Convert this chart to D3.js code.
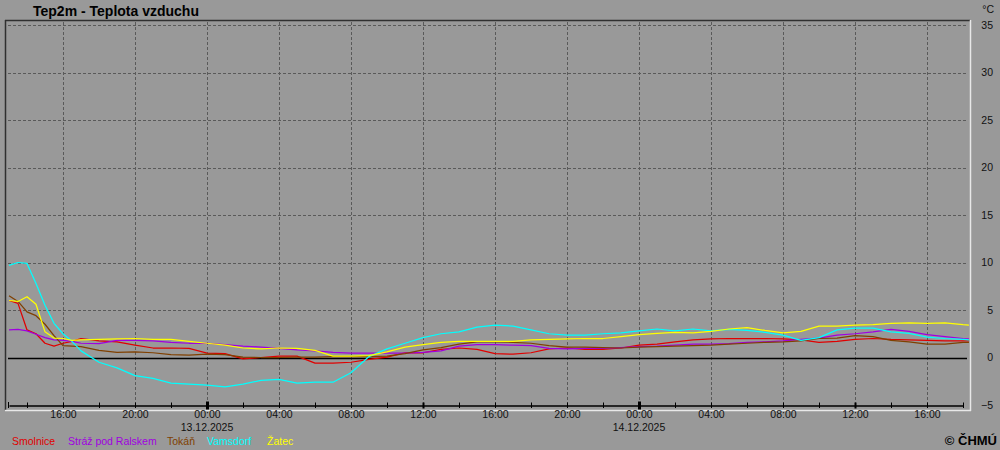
<!DOCTYPE html>
<html><head><meta charset="utf-8">
<script src="https://cdn.jsdelivr.net/npm/d3@7"></script>
<style>
html,body{margin:0;padding:0;background:#999999;}
svg{display:block;}
text{font-family:"Liberation Sans",Arial,sans-serif;}
</style></head>
<body>
<svg id="chart" width="1000" height="450"></svg>
<script>
// Hours after 12.12.2025 13:00
const hours = [0,0.5,1,1.5,2,2.5,3,3.5,4,5,6,7,8,9,10,11,12,13,14,15,16,17,18,19,20,21,22,23,24,25,26,27,28,29,30,31,32,33,34,35,36,37,38,39,40,41,42,43,44,45,46,47,48,49,50,51,52,53,53.33];
const smolnice = [6.0,5.7,2.9,2.5,1.5,1.2,1.5,1.7,2.0,1.75,1.65,1.3,1.0,1.0,0.95,0.45,0.4,-0.15,0.0,0.15,0.15,-0.6,-0.6,-0.5,-0.2,0.05,0.5,0.5,0.85,1.0,0.85,0.4,0.35,0.5,0.9,1.0,0.85,0.85,1.0,1.3,1.4,1.65,1.85,1.95,2.0,2.0,2.0,1.95,1.85,1.6,1.7,1.9,2.0,1.9,1.85,1.8,1.75,1.75,1.75];
const straz = [2.9,2.95,2.8,2.45,2.1,1.85,1.8,1.7,1.5,1.45,1.8,1.8,1.75,1.6,1.5,1.5,1.35,1.2,1.1,0.95,0.8,0.7,0.55,0.45,0.45,0.45,0.45,0.55,0.7,1.2,1.35,1.35,1.3,1.25,0.95,0.9,0.95,0.95,1.05,1.15,1.2,1.3,1.4,1.4,1.45,1.6,1.65,1.75,1.9,2.05,2.35,2.5,2.7,2.95,2.75,2.4,2.2,2.0,1.95];
const tokan = [6.5,5.9,4.8,4.4,3.5,2.3,1.25,1.2,1.15,0.75,0.55,0.6,0.5,0.3,0.25,0.35,0.3,0.05,0.0,0.0,0.05,0.05,0.1,0.1,0.1,0.15,0.4,0.8,1.05,1.4,1.65,1.65,1.6,1.5,1.25,1.1,1.1,1.05,1.0,1.1,1.15,1.2,1.25,1.3,1.4,1.5,1.6,1.65,1.75,2.0,2.05,2.3,2.2,1.8,1.65,1.4,1.4,1.6,1.6];
const vamsdorf = [9.7,10.0,9.9,7.8,5.5,3.6,2.5,1.7,0.7,-0.5,-1.1,-1.9,-2.2,-2.7,-2.8,-2.9,-3.1,-2.8,-2.4,-2.3,-2.7,-2.6,-2.6,-1.6,0.1,0.9,1.5,2.1,2.5,2.7,3.2,3.4,3.3,2.9,2.5,2.35,2.35,2.5,2.6,2.8,3.0,2.8,3.0,2.8,2.95,2.85,2.65,2.35,1.8,2.1,2.9,3.1,3.1,2.7,2.55,2.15,2.0,1.9,1.85];
const zatec = [6.0,5.9,6.4,5.6,2.7,2.05,2.0,1.8,1.85,1.9,1.95,2.0,1.9,1.9,1.7,1.5,1.3,1.0,0.9,1.0,0.95,0.75,0.15,0.15,0.2,0.6,1.1,1.35,1.6,1.7,1.7,1.7,1.7,1.85,1.9,1.95,2.0,2.0,2.2,2.4,2.55,2.65,2.6,2.75,3.0,3.15,2.85,2.6,2.75,3.3,3.3,3.4,3.45,3.6,3.65,3.6,3.65,3.45,3.4];

const seriesNames = ["Smolnice","Stráž pod Ralskem","Tokáň","Vamsdorf","Žatec"];
const seriesColors = ["#e00000","#a000e0","#804000","#00ffff","#ffff00"];
const seriesValues = [smolnice, straz, tokan, vamsdorf, zatec];

const yTickValues = [-5,0,5,10,15,20,25,30,35];
const dateLabels = ["13.12.2025","14.12.2025"];
const title = "Tep2m - Teplota vzduchu";

const start = new Date(2025,11,12,13,0);
const end = new Date(2025,11,14,18,0);
const toDate = h => new Date(start.getTime() + h*3600000);

const svg = d3.select("#chart");
const x = d3.scaleTime().domain([start,end]).range([9,963]);
const y = d3.scaleLinear().domain([-5,35]).range([405,25]);

// background
svg.append("rect").attr("width",1000).attr("height",450).attr("fill","#999999");

// grid horizontal
const grid = svg.append("g");
yTickValues.filter(v => v > 0).forEach(v => {
  grid.append("line").attr("x1",8).attr("x2",967).attr("y1",Math.round(y(v))+0.5).attr("y2",Math.round(y(v))+0.5)
    .attr("stroke","#5a5a5a").attr("stroke-dasharray","3,2");
});
// grid vertical every 4h
const fourH = d3.timeHour.every(4).range(start, end);
fourH.forEach(t => {
  grid.append("line").attr("x1",Math.round(x(t))+0.5).attr("x2",Math.round(x(t))+0.5).attr("y1",22).attr("y2",404)
    .attr("stroke","#5a5a5a").attr("stroke-dasharray","3,2");
});

// zero line
svg.append("line").attr("x1",8).attr("x2",967).attr("y1",Math.round(y(0))+0.5).attr("y2",Math.round(y(0))+0.5)
  .attr("stroke","#000").attr("stroke-width",1.5);

// frame
svg.append("line").attr("x1",5.5).attr("x2",5.5).attr("y1",20).attr("y2",410).attr("stroke","#303030").attr("stroke-width",1.5);
svg.append("line").attr("x1",5).attr("x2",970).attr("y1",20.5).attr("y2",20.5).attr("stroke","#303030").attr("stroke-width",1.5);
svg.append("line").attr("x1",970.5).attr("x2",970.5).attr("y1",20).attr("y2",411).attr("stroke","#e8e8e8").attr("stroke-width",1.5);
svg.append("line").attr("x1",5).attr("x2",971).attr("y1",410.5).attr("y2",410.5).attr("stroke","#e8e8e8").attr("stroke-width",1.5);

// x axis
const twoH = d3.timeHour.every(2).range(start, d3.timeMinute.offset(end,1));
const fmt = d3.timeFormat("%H:%M");
const xAxis = d3.axisBottom(x).tickValues(twoH).tickSizeOuter(0).tickSize(0)
  .tickFormat(d => d.getHours() % 4 === 0 ? fmt(d) : "");
const gx = svg.append("g").attr("transform","translate(0,405.5)").call(xAxis);
gx.select(".domain").attr("stroke","#000").attr("stroke-width",1.5);
gx.selectAll(".tick line").each(function(d){
  const h = d.getHours();
  const sel = d3.select(this).attr("stroke","#000");
  if (h === 0) sel.attr("y1",-4).attr("y2",4).attr("stroke-width",3);
  else if (h === 12) sel.attr("y1",-3).attr("y2",3).attr("stroke-width",2);
  else sel.attr("y1",-3).attr("y2",2.5).attr("stroke-width",1);
});
gx.selectAll(".tick text").attr("y",5.5).attr("font-size","10.5px").attr("font-family","Liberation Sans, Arial, sans-serif").attr("fill","#111");
// start tick
svg.append("line").attr("x1",8.5).attr("x2",8.5).attr("y1",402).attr("y2",408).attr("stroke","#000");
// date labels under midnights
const mids = d3.timeDay.every(1).range(d3.timeMinute.offset(start,1), end);
mids.forEach((t,i) => {
  svg.append("text").attr("x",x(t)).attr("y",431).attr("text-anchor","middle").attr("font-size","10.5px").attr("fill","#111").text(dateLabels[i]);
});

// y axis
const yAxis = d3.axisRight(y).tickValues(yTickValues).tickSize(0).tickFormat(d3.format("d"));
const gy = svg.append("g").attr("transform","translate(993,0)").call(yAxis);
gy.select(".domain").remove();
gy.selectAll(".tick text").attr("x",0).attr("text-anchor","end").attr("font-size","10.5px").attr("font-family","Liberation Sans, Arial, sans-serif").attr("fill","#111");
svg.append("text").attr("x",994).attr("y",13).attr("text-anchor","end").attr("font-size","10.5px").attr("fill","#111").text("°C");

// lines
const line = d3.line().x((d,i) => x(toDate(hours[i]))).y(d => y(d)).curve(d3.curveLinear);
seriesValues.forEach((vals,k) => {
  svg.append("path").datum(vals).attr("d",line).attr("fill","none").attr("stroke",seriesColors[k]).attr("stroke-width",1.25).attr("stroke-linejoin","round");
});

// title
svg.append("text").attr("x",33).attr("y",16).attr("font-size","14px").attr("font-weight","bold").attr("fill","#000").text(title);

// legend
const legendX = [12,68,167,207,267];
seriesNames.forEach((n,k) => {
  svg.append("text").attr("x",legendX[k]).attr("y",445).attr("font-size","10.5px").attr("fill",seriesColors[k]).text(n);
});

// copyright
svg.append("text").attr("x",997).attr("y",445).attr("text-anchor","end").attr("font-size","13px").attr("font-weight","bold").attr("fill","#000").text("© ČHMÚ");
</script>
</body></html>
